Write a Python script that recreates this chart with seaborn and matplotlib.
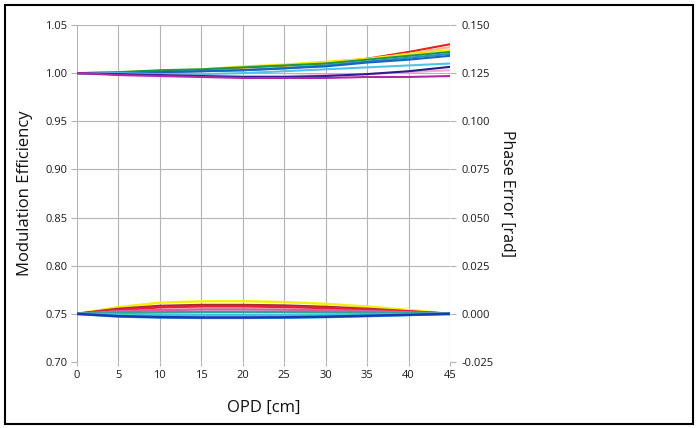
import matplotlib
matplotlib.use("Agg")
import matplotlib.pyplot as plt
import seaborn as sns
from matplotlib.patches import Rectangle

sns.set_theme(style="white")
plt.rcParams['font.family'] = ['Open Sans', 'DejaVu Sans']

opd = [0, 5, 10, 15, 20, 25, 30, 35, 40, 45]

# Modulation efficiency (left axis)
me_red    = [1.000, 1.0005, 1.002, 1.003, 1.005, 1.007, 1.010, 1.015, 1.022, 1.030]
me_peach  = [1.000, 1.000, 1.001, 1.002, 1.004, 1.006, 1.009, 1.014, 1.020, 1.027]
me_yellow = [1.000, 1.001, 1.002, 1.004, 1.007, 1.009, 1.012, 1.015, 1.020, 1.024]
me_green  = [1.000, 1.001, 1.003, 1.004, 1.006, 1.008, 1.010, 1.014, 1.018, 1.022]
me_teal   = [1.000, 1.000, 1.001, 1.002, 1.003, 1.005, 1.008, 1.012, 1.016, 1.020]
me_blue   = [1.000, 1.000, 1.001, 1.002, 1.003, 1.005, 1.007, 1.011, 1.014, 1.018]
me_cyan   = [1.000, 1.000, 0.999, 0.999, 1.000, 1.002, 1.004, 1.006, 1.008, 1.010]
me_pink   = [1.000, 0.999, 0.998, 0.997, 0.997, 0.997, 0.998, 0.999, 1.001, 1.003]
me_navy   = [1.000, 0.999, 0.998, 0.997, 0.996, 0.996, 0.997, 0.999, 1.002, 1.0065]
me_purple = [1.000, 0.998, 0.997, 0.996, 0.995, 0.995, 0.995, 0.996, 0.996, 0.997]

me_series = {
    "#e8201e": me_red, "#f5b98a": me_peach, "#f2e81a": me_yellow, "#1e9a3c": me_green,
    "#2a8fc8": me_teal, "#1565c0": me_blue, "#4fc3e8": me_cyan, "#f0a8d8": me_pink,
    "#2a1f8f": me_navy, "#b02aa8": me_purple,
}

# Phase error [rad] (right axis)
pe_yellow = [0, 0.0035, 0.0058, 0.0065, 0.0066, 0.0061, 0.0052, 0.0038, 0.0020, 0]
pe_brown  = [0, 0.0026, 0.0041, 0.0046, 0.0046, 0.0043, 0.0036, 0.0026, 0.0013, 0]
pe_red    = [0, 0.0021, 0.0034, 0.0039, 0.0039, 0.0036, 0.0030, 0.0022, 0.0012, 0]
pe_pink   = [0, 0.0013, 0.0020, 0.0023, 0.0023, 0.0022, 0.0019, 0.0014, 0.0008, 0]
pe_teal   = [0, 0.0005, 0.0008, 0.0009, 0.0009, 0.0009, 0.0008, 0.0006, 0.0003, 0]
pe_cyan   = [0, -0.0004, -0.0006, -0.0007, -0.0007, -0.0007, -0.0006, -0.0004, -0.0002, 0]
pe_blue   = [0, -0.0012, -0.0017, -0.0019, -0.0019, -0.0018, -0.0015, -0.0010, -0.0005, 0]
pe_lblue  = [0, -0.0014, -0.0019, -0.0021, -0.0021, -0.0020, -0.0017, -0.0012, -0.0006, 0]

pe_series = {
    "#f5ef10": pe_yellow, "#a0302a": pe_brown, "#e81e3c": pe_red, "#d8609a": pe_pink,
    "#2aa89a": pe_teal, "#40c8d8": pe_cyan, "#38b8f0": pe_lblue, "#1a3ab0": pe_blue,
}

me_ticks = [0.70, 0.75, 0.80, 0.85, 0.90, 0.95, 1.00, 1.05]
pe_ticks = [-0.025, 0.0, 0.025, 0.05, 0.075, 0.1, 0.125, 0.150]

fig = plt.figure(figsize=(6.98, 4.28), dpi=100)
ax = fig.add_axes([77/698, 1-362/428, (450-77)/698, (362-25)/428])
ax2 = ax.twinx()

grid_c = "#b4b4b4"
for c, ys in pe_series.items():
    sns.lineplot(x=opd, y=ys, ax=ax2, color=c, lw=1.8)
for c, ys in me_series.items():
    sns.lineplot(x=opd, y=ys, ax=ax, color=c, lw=1.5)

ax.set_xlim(0, 45)
ax.set_ylim(0.70, 1.05)
ax2.set_ylim(-0.025, 0.150)
ax.set_xticks(opd)
ax.set_yticks(me_ticks)
ax.set_yticklabels([f"{v:.2f}" for v in me_ticks])
ax2.set_yticks(pe_ticks)
ax2.set_yticklabels([f"{v:.3f}" for v in pe_ticks])
ax.grid(True, color=grid_c, lw=0.8)
ax.set_axisbelow(True)
for a in (ax, ax2):
    for s in a.spines.values():
        s.set_visible(False)
ax.tick_params(axis='both', labelsize=8, labelcolor="#1a1a1a", length=4, width=0.8,
               direction='out', color=grid_c, pad=3)
ax.tick_params(axis='y', left=True)
ax.tick_params(axis='x', bottom=True, length=3)
ax2.tick_params(axis='y', labelsize=8, labelcolor="#1a1a1a", length=4, width=0.8,
                right=True, color=grid_c, pad=4)

ax.set_xlabel("OPD [cm]", fontsize=12, labelpad=13, color="#111111")
ax.set_ylabel("Modulation Efficiency", fontsize=12, labelpad=9, color="#111111")
ax2.set_ylabel("Phase Error [rad]", fontsize=11.5, rotation=-90, labelpad=16, color="#111111")

fig.patches.append(Rectangle((5/698, 4/428), 688/698, 419/428, transform=fig.transFigure,
                             fill=False, edgecolor="black", lw=1.5))

fig.savefig("out.png", dpi=100)
